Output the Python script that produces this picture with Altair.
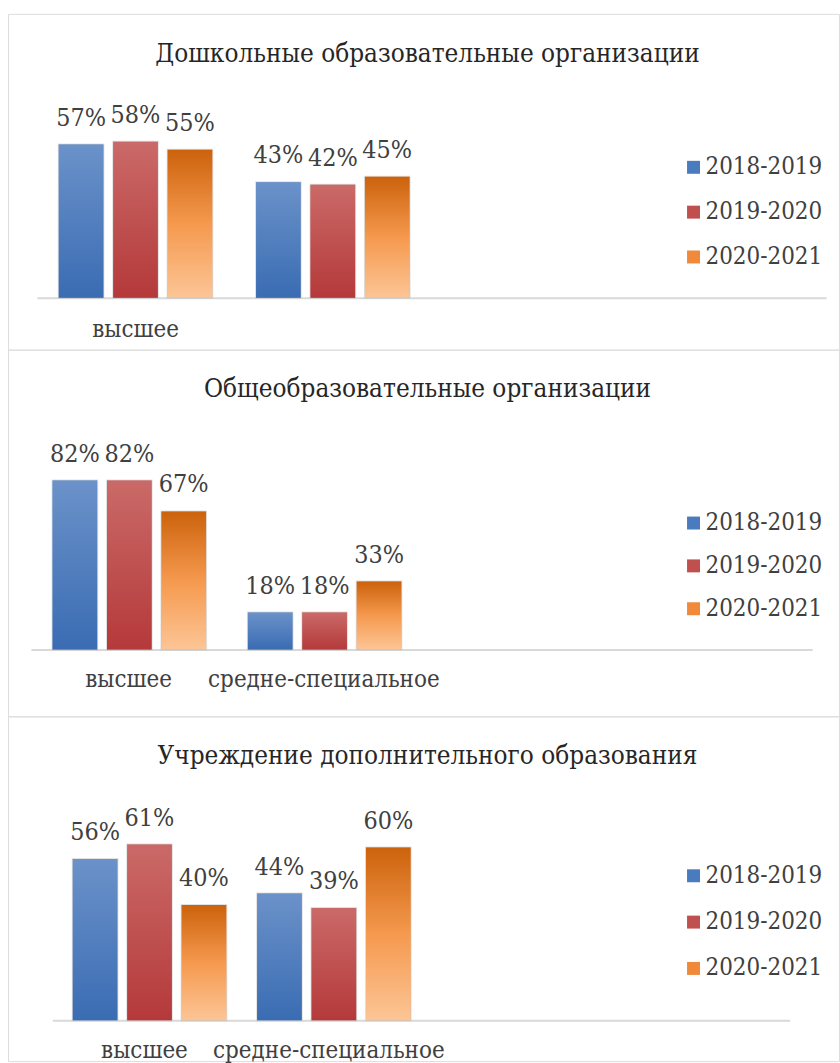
import altair as alt
import pandas as pd

FONT = "DejaVu Serif Condensed"

series = ["2018-2019", "2019-2020", "2020-2021"]
categories = ["высшее", "средне-специальное"]
x_domain = ["высшее", "средне-специальное", "_c3", "_c4"]

titles = [
    "Дошкольные образовательные организации",
    "Общеобразовательные организации",
    "Учреждение дополнительного образования",
]

# values in percent: [высшее, средне-специальное] per series
p1_vysshee = [57, 58, 55]
p1_sred = [43, 42, 45]
p2_vysshee = [82, 82, 67]
p2_sred = [18, 18, 33]
p3_vysshee = [56, 61, 40]
p3_sred = [44, 39, 60]

legend_colors = ["#4a7bbf", "#c0504d", "#f08a3a"]


def grad(stops):
    return alt.Gradient(
        gradient="linear",
        stops=[alt.GradientStop(color=c, offset=o) for o, c in stops],
        x1=0, x2=0, y1=0, y2=1,
    )


gradients = [
    grad([(0, "#6b92c9"), (1, "#3a6cb3")]),
    grad([(0, "#ca6a68"), (1, "#b5393a")]),
    grad([(0, "#cc620c"), (0.5, "#f5994e"), (1, "#fcc596")]),
]


def make_df(vys, sred):
    rows = []
    for s, a, b in zip(series, vys, sred):
        rows.append({"cat": categories[0], "series": s, "v": a})
        rows.append({"cat": categories[1], "series": s, "v": b})
    df = pd.DataFrame(rows)
    df["lbl"] = df["v"].astype(str) + "%"
    return df


def panel(df, title, xrange, yrange, view_h, baseline, label_pad, legend_y, row_pad, shown):
    label_expr = "indexof(" + str(shown).replace('"', "'") + ", datum.value) >= 0 ? datum.value : ''"
    base = alt.Chart(df).encode(
        x=alt.X(
            "cat:N",
            scale=alt.Scale(domain=x_domain, range=xrange, paddingInner=0.222, paddingOuter=0.111),
            axis=alt.Axis(
                title=None, orient="bottom", offset=-(view_h - baseline),
                domainColor="#d9d9d9", domainWidth=2, ticks=False, grid=False,
                labelFont=FONT, labelFontSize=24, labelColor="#404040",
                labelPadding=label_pad, labelAngle=0, labelLimit=500,
                labelExpr=label_expr,
            ),
        ),
        xOffset=alt.XOffset("series:N", scale=alt.Scale(domain=series, paddingInner=0.18, paddingOuter=0)),
        y=alt.Y("v:Q", scale=alt.Scale(domain=[0, 100], range=yrange), axis=None),
    )
    legend_bars = base.mark_bar(stroke="#bdbdbd", strokeWidth=2, strokeOpacity=0.45).encode(
        color=alt.Color(
            "series:N",
            scale=alt.Scale(domain=series, range=legend_colors),
            legend=alt.Legend(
                title=None, orient="none", legendX=676, legendY=legend_y,
                symbolType="square", symbolSize=169, symbolStrokeWidth=0,
                labelFont=FONT, labelFontSize=24, labelColor="#404040",
                labelOffset=0, rowPadding=row_pad,
            ),
        )
    )
    layers = [legend_bars]
    for s, g in zip(series, gradients):
        layers.append(base.transform_filter(alt.datum.series == s).mark_bar(color=g))
    layers.append(
        base.mark_text(baseline="middle", dy=-27, font=FONT, fontSize=25, color="#404040").encode(text="lbl:N")
    )
    return alt.layer(*layers).properties(
        width=834,
        height=view_h,
        title=alt.Title(
            title, font=FONT, fontSize=26, fontWeight="normal", color="#262626",
            anchor="middle", baseline="middle", offset=-66, dx=4,
        ),
    )


c1 = panel(make_df(p1_vysshee, p1_sred), titles[0], [29, 821], [285, 15], 337, 285, 20, 142, 21, ["высшее"])
c2 = panel(make_df(p2_vysshee, p2_sred), titles[1], [23, 807], [301, 94], 368, 301, 18, 162, 19, ["высшее", "средне-специальное"])
c3 = panel(make_df(p3_vysshee, p3_sred), titles[2], [44.5, 784.5], [305, 16], 346, 305, 18, 148, 22.5, ["высшее", "средне-специальное"])

chart = alt.vconcat(c1, c2, c3, spacing=0, bounds="flush").resolve_scale(
    color="independent"
).resolve_legend(color="independent").properties(
    padding={"left": 7, "top": 11, "right": 0, "bottom": 0}
).configure_view(stroke="#d9d9d9", strokeWidth=3).configure(background="white")

chart.save("out.html", embed_options={"renderer": "svg", "actions": False})
